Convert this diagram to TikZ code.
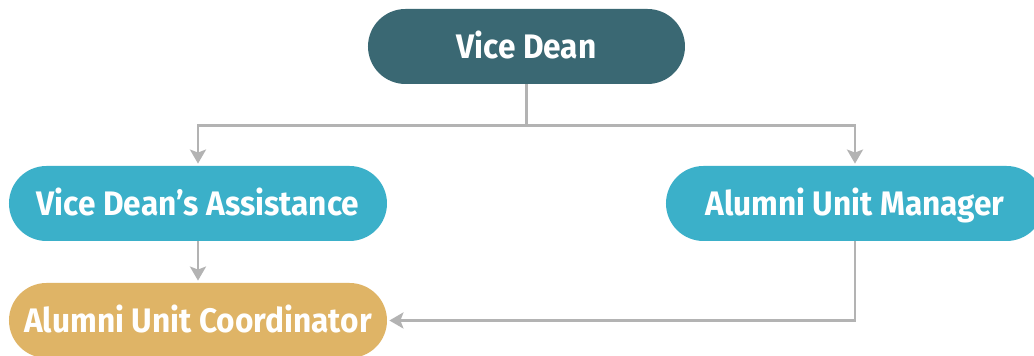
\documentclass[tikz,border=0pt]{standalone}
\usepackage{fontspec}
\setmainfont{Fira Sans}[FakeStretch=0.93]
\usetikzlibrary{arrows.meta}
\definecolor{deanteal}{HTML}{3A6873}
\definecolor{unitcyan}{HTML}{3BB0C9}
\definecolor{coordgold}{HTML}{DFB466}
\definecolor{linegray}{HTML}{B3B3B3}
\tikzset{
    pill/.style={rounded corners=18.75pt, minimum height=37.5pt, inner sep=0pt,
        text height=14pt, text depth=2.3pt,
        text=white, font=\fontsize{17}{20}\selectfont\bfseries},
    dean/.style={pill, fill=deanteal, minimum width=158.5pt},
    unit/.style={pill, fill=unitcyan, minimum width=189pt},
    coord/.style={pill, fill=coordgold, minimum width=189pt},
    link/.style={draw=linegray, line width=1.3pt,
        -{Stealth[length=7pt, width=8pt, inset=1.5pt]}, shorten >=1pt},
}
\begin{document}
\begin{tikzpicture}
[
    level 1/.style={sibling distance=328.5pt, level distance=78.5pt},
    level 2/.style={level distance=58.5pt,
        edge from parent path={(\tikzparentnode.south) -- (\tikzchildnode.north)}},
    edge from parent/.style={link},
    edge from parent path={(\tikzparentnode.south) -- ++(0,-20.5pt) -| (\tikzchildnode.north)},
]
\fill[white] (-263.25pt,23.25pt) rectangle (253.75pt,-154.75pt);
\useasboundingbox (-263.25pt,23.25pt) rectangle (253.75pt,-154.75pt);
\node[dean] (dean) {Vice Dean}
    child {node[unit] (assist) {Vice Dean’s Assistance}
    child {node[coord] (coord) {Alumni Unit Coordinator}
}}  child {node[unit] (manager) {Alumni Unit Manager}
};
% manager reports across to the coordinator
\draw[link] (manager.south) |- (coord.east);
\end{tikzpicture}
\end{document}
